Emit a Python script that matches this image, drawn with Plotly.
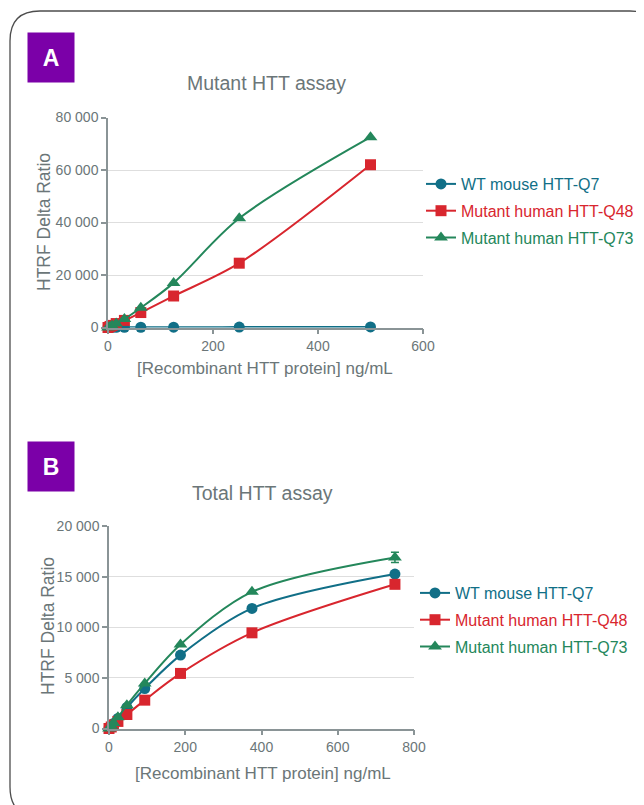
import plotly.graph_objects as go

# page has an 8px body margin, so figure is drawn at an 8px offset
OFF = 8
W, H = 644 - OFF, 805 - OFF

# ---------------- data ----------------
conc_a = [0, 3.9, 7.8, 15.6, 31.25, 62.5, 125, 250, 500]
wt_a = [0, 20, 40, 60, 80, 100, 120, 150, 200]
q48_a = [0, 400, 800, 1500, 2700, 5700, 12000, 24500, 62000]
q73_a = [0, 300, 700, 1500, 3200, 7500, 17000, 41600, 72500]
q48_a_err = [0, 0, 0, 0, 0, 0, 0, 1200, 800]

conc_b = [0, 5.86, 11.7, 23.4, 46.9, 93.75, 187.5, 375, 750]
wt_b = [0, 250, 500, 1000, 2075, 3950, 7250, 11860, 15250]
q48_b = [0, 150, 350, 700, 1380, 2800, 5440, 9450, 14240]
q73_b = [0, 270, 550, 1100, 2300, 4450, 8300, 13500, 16900]
q73_b_err = [0, 0, 0, 0, 0, 0, 0, 0, 500]

series_names = ["WT mouse HTT-Q7", "Mutant human HTT-Q48", "Mutant human HTT-Q73"]
series_colors = ["#116f87", "#d8262e", "#24875b"]
series_symbols = ["circle", "square", "triangle-up"]

yticks_a = [0, 20000, 40000, 60000, 80000]
yticklabels_a = ["0", "20 000", "40 000", "60 000", "80 000"]
xticks_a = [0, 200, 400, 600]
yticks_b = [0, 5000, 10000, 15000, 20000]
yticklabels_b = ["0", "5 000", "10 000", "15 000", "20 000"]
xticks_b = [0, 200, 400, 600, 800]

panel_titles = ["Mutant HTT assay", "Total HTT assay"]
panel_letters = ["A", "B"]
x_title = "[Recombinant HTT protein] ng/mL"
y_title = "HTRF Delta Ratio"

# ---------------- helpers ----------------
def X(px):
    return (px - OFF) / W

def Y(py):
    return 1 - (py - OFF) / H

FONT = "Liberation Sans, Arial, sans-serif"
GRAY = "#6b7678"
AXIS = "#8a9496"
GRID = "#dedede"

fig = go.Figure()

def add_series(x, ys, errs, xa, ya, legend):
    for i, y in enumerate(ys):
        err = errs[i]
        tr = dict(
            x=x, y=y, mode="lines+markers",
            name=f"<span style='color:{series_colors[i]}'>{series_names[i]}</span>",
            line=dict(color=series_colors[i], width=2, shape="spline", smoothing=0.9),
            marker=dict(color=series_colors[i], symbol=series_symbols[i],
                        size=11 if series_symbols[i] != "triangle-up" else 12),
            xaxis=xa, yaxis=ya, legend=legend, cliponaxis=False,
            legendgroup=f"{legend}{i}",
        )
        if err is not None:
            tr["error_y"] = dict(type="data", array=err, visible=True,
                                 color=series_colors[i], thickness=1.5, width=4)
        fig.add_trace(go.Scatter(**tr))

add_series(conc_a, [wt_a, q48_a, q73_a], [None, q48_a_err, None], "x", "y", "legend")
add_series(conc_b, [wt_b, q48_b, q73_b], [None, None, q73_b_err], "x2", "y2", "legend2")

axis_common = dict(
    showline=True, linecolor=AXIS, linewidth=1.5, ticks="outside", ticklen=5,
    tickcolor=AXIS, tickwidth=1.5, tickfont=dict(family=FONT, size=14, color=GRAY),
    automargin=False, zeroline=False,
)

leg_common = dict(
    font=dict(family=FONT, size=16, color=GRAY), bgcolor="rgba(0,0,0,0)",
    traceorder="grouped", tracegroupgap=3, itemwidth=30, xanchor="left", yanchor="top",
)

fig.update_layout(
    width=W, height=H, margin=dict(l=0, r=0, t=0, b=0),
    paper_bgcolor="white", plot_bgcolor="white",
    showlegend=True,
    xaxis=dict(domain=[X(108), X(423)], range=[0, 600], tickvals=xticks_a,
               anchor="y", showgrid=False, **axis_common),
    yaxis=dict(domain=[Y(327.5), Y(117.5)], range=[0, 80000], tickvals=yticks_a,
               ticktext=yticklabels_a, anchor="x", showgrid=True, gridcolor=GRID,
               gridwidth=1, **axis_common),
    xaxis2=dict(domain=[X(109), X(414)], range=[0, 800], tickvals=xticks_b,
                anchor="y2", showgrid=False, **axis_common),
    yaxis2=dict(domain=[Y(728.5), Y(526)], range=[0, 20000], tickvals=yticks_b,
                ticktext=yticklabels_b, anchor="x2", showgrid=True, gridcolor=GRID,
                gridwidth=1, **axis_common),
    legend=dict(x=X(421), y=Y(167), **leg_common),
    legend2=dict(x=X(415), y=Y(576), **leg_common),
)

# rounded border (left, top-left and top-right corner visible; rest off page)
r = 30
left, top = 10, 11
path = (f"M {X(left + r)},{Y(787 + r)} Q {X(left)},{Y(787 + r)} {X(left)},{Y(787)} "
        f"L {X(left)},{Y(top + r)} Q {X(left)},{Y(top)} {X(left + r)},{Y(top)} "
        f"L {X(630)},{Y(top)} Q {X(660)},{Y(top)} {X(660)},{Y(top + r)}")
fig.add_shape(type="path", path=path, xref="paper", yref="paper",
              line=dict(color="#4d4d4d", width=1.3))

annotations = []
for letter, (cx, cy) in zip(panel_letters, [(51, 58), (51, 466.5)]):
    annotations.append(dict(
        x=X(cx), y=Y(cy), xref="paper", yref="paper", text=f"<b>{letter}</b>",
        showarrow=False, bgcolor="#7b00a8", width=44, height=47,
        font=dict(family=FONT, size=23, color="white"), xanchor="center", yanchor="middle",
    ))
for t, (cx, cy) in zip(panel_titles, [(266, 83), (262, 493)]):
    annotations.append(dict(
        x=X(cx), y=Y(cy), xref="paper", yref="paper", text=t, showarrow=False,
        font=dict(family=FONT, size=19.5, color=GRAY), xanchor="center", yanchor="middle",
    ))
for cx, cy in [(265, 368), (263, 773)]:
    annotations.append(dict(
        x=X(cx), y=Y(cy), xref="paper", yref="paper", text=x_title, showarrow=False,
        font=dict(family=FONT, size=17, color=GRAY), xanchor="center", yanchor="middle",
    ))
for cx, cy in [(44, 222), (48, 626)]:
    annotations.append(dict(
        x=X(cx), y=Y(cy), xref="paper", yref="paper", text=y_title, showarrow=False,
        textangle=-90, font=dict(family=FONT, size=17.5, color=GRAY),
        xanchor="center", yanchor="middle",
    ))
fig.update_layout(annotations=annotations)

fig.write_html("out.html")
